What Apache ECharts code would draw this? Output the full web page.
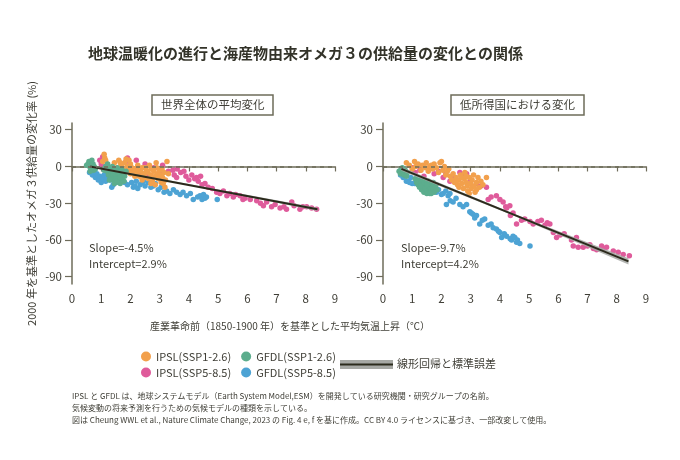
<!DOCTYPE html>
<html>
<head>
<meta charset="utf-8">
<script src="https://cdn.jsdelivr.net/npm/echarts@6/dist/echarts.min.js"></script>
<style>
  html, body { margin: 0; padding: 0; background: #fff; }
  #chart { width: 680px; height: 460px; }
</style>
</head>
<body>
<div id="chart"></div>
<script>
const FONT = '"Noto Sans CJK JP", "Noto Sans", sans-serif';
const TEXT = '#3f3e36';
const AXIS = '#6e6c5a';

const seriesNames = ['IPSL(SSP1-2.6)', 'GFDL(SSP1-2.6)', 'IPSL(SSP5-8.5)', 'GFDL(SSP5-8.5)'];
const seriesColors = ['#f2a04c', '#5cad8d', '#df5b9b', '#4da3d4'];
const xTicks = [0, 1, 2, 3, 4, 5, 6, 7, 8, 9];
const yTicks = [30, 0, -30, -60, -90];

// 世界全体の平均変化
const globalIpsl126 = [[1.05,4],[1.1,10],[1.12,7],[1.15,5],[1.2,2],[1.3,-1],[1.45,3],[1.6,5],[1.7,1],[1.75,-2],[1.8,3],[1.85,6],[1.9,0],[1.95,-3],[2.0,2],[2.05,-1],[2.1,-5],[2.15,-2],[2.2,-6],[2.25,-3],[2.3,-8],[2.35,-4],[2.4,-1],[2.45,-6],[2.5,-9],[2.55,-3],[2.6,-5],[2.62,-10],[2.65,1],[2.7,-7],[2.72,-2],[2.75,-12],[2.8,-4],[2.85,-8],[2.88,3],[2.9,-1],[2.92,-6],[2.95,-10],[3.0,-3],[3.02,-7],[3.05,-13],[3.08,-2],[3.1,-9],[3.15,-5],[3.18,-17],[3.2,-11],[3.25,4],[3.3,-6],[1.55,-1],[1.65,3],[2.0,-6],[2.25,1],[2.5,-1],[2.7,-14],[2.4,-11],[2.15,-8],[1.95,5],[2.85,-15],[3.12,-14]];
const globalGfdl126 = [[0.55,2],[0.58,4],[0.6,0],[0.62,3],[0.64,-2],[0.66,1],[0.68,5],[0.7,-1],[0.72,2],[0.74,-3],[0.76,0],[0.62,-4],[0.8,-2],[0.5,1],[1.1,-3],[1.15,0],[1.2,-4],[1.22,2],[1.25,-7],[1.3,-2],[1.32,-9],[1.35,-5],[1.38,0],[1.4,-11],[1.42,-7],[1.45,-3],[1.48,-9],[1.5,-13],[1.52,-5],[1.55,-1],[1.58,-8],[1.6,-11],[1.62,-4],[1.65,-14],[1.68,-7],[1.7,-2],[1.72,-10],[1.75,-5],[1.78,-12],[1.8,-8],[1.85,-4],[1.28,-11],[1.45,-14],[1.6,-6],[1.35,-1],[1.5,-10],[1.4,-4],[1.55,-12],[1.65,-9]];
const globalIpsl585 = [[0.95,5],[1.0,2],[1.05,8],[1.9,7],[1.85,4],[2.0,-3],[2.2,5],[2.3,-5],[2.5,2],[2.6,-8],[2.8,-1],[3.0,-6],[3.1,1],[3.3,-4],[3.45,-3],[3.5,-7],[3.58,-9],[3.6,-2],[3.72,-5],[3.83,-4],[3.9,-8],[4.0,-11],[4.1,-7],[4.2,-10],[4.26,-9],[4.32,-12],[4.4,-8],[4.45,-15],[4.55,-14],[4.66,-17],[4.8,-18],[4.95,-21],[5.06,-22],[5.18,-20],[5.3,-24],[5.4,-22],[5.52,-25],[5.6,-23],[5.75,-24],[5.85,-27],[5.92,-26],[6.1,-27],[6.32,-28],[6.45,-30],[6.55,-32],[6.66,-29],[6.83,-33],[6.95,-31],[7.12,-34],[7.25,-33],[7.34,-35],[7.52,-29],[7.6,-32],[7.8,-35],[7.9,-33],[8.03,-33],[8.2,-34],[8.37,-35]];
const globalGfdl585 = [[0.6,-5],[0.65,-2],[0.7,-7],[0.75,-4],[0.8,-9],[0.85,-6],[0.9,-11],[0.95,-8],[1.0,-13],[1.05,-10],[1.1,-7],[1.15,-12],[1.2,-9],[1.3,-11],[1.36,-17],[1.41,-15],[1.5,-13],[1.65,-10],[1.8,-13],[1.9,-15],[2.04,-13],[2.1,-17],[2.15,-16],[2.2,-12],[2.25,-18],[2.33,-15],[2.4,-13],[2.44,-12],[2.5,-16],[2.61,-13],[2.7,-17],[2.78,-16],[2.85,-14],[2.95,-19],[3.05,-17],[3.15,-21],[3.24,-20],[3.35,-22],[3.47,-19],[3.58,-21],[3.7,-23],[3.8,-21],[3.92,-24],[4.05,-22],[4.15,-27],[4.3,-25],[4.38,-24],[4.45,-27],[4.5,-23],[4.55,-26],[4.6,-25],[4.97,-27]];
const globalFit = [[0.62,0],[8.4,-35]];
const globalBand = [[0.62,-0.8,0.8],[4.5,-17.3,-16.5],[8.4,-36.3,-33.7]];

// 低所得国における変化
const lowIpsl126 = [[0.8,3],[0.9,1],[1.0,-2],[1.08,4],[1.12,0],[1.2,2],[1.3,-3],[1.35,1],[1.45,-1],[1.48,3],[1.55,-4],[1.6,0],[1.7,-2],[1.75,2],[1.83,-1],[1.9,-5],[1.95,3],[2.0,4],[2.05,-3],[2.1,0],[2.15,-7],[2.2,-4],[2.3,-8],[2.35,-11],[2.4,-6],[2.45,-13],[2.5,-9],[2.55,-15],[2.6,-11],[2.65,-7],[2.7,-14],[2.75,-18],[2.78,-10],[2.8,-5],[2.85,-13],[2.88,-16],[2.9,-20],[2.95,-9],[3.0,-14],[3.02,-18],[3.05,-11],[3.1,-7],[3.12,-16],[3.15,-21],[3.2,-13],[3.25,-9],[3.3,-17],[3.35,-12],[3.42,-15],[3.54,-9],[2.6,-17],[2.7,-9],[2.95,-22],[3.2,-19],[2.5,-12],[2.85,-8],[1.65,1],[2.25,-2]];
const lowGfdl126 = [[0.55,-4],[0.6,-6],[0.62,-2],[0.66,-1],[0.7,-4],[0.72,-7],[0.76,-3],[0.8,-8],[0.84,-5],[1.1,-10],[1.15,-13],[1.2,-15],[1.22,-11],[1.25,-17],[1.3,-13],[1.32,-19],[1.35,-15],[1.38,-11],[1.4,-21],[1.42,-17],[1.45,-14],[1.48,-19],[1.5,-22],[1.52,-16],[1.55,-12],[1.58,-20],[1.6,-18],[1.62,-14],[1.65,-22],[1.68,-16],[1.7,-19],[1.72,-13],[1.75,-21],[1.78,-17],[1.82,-15],[1.85,-19],[1.3,-16],[1.45,-18],[1.55,-16],[1.4,-13],[1.6,-22],[1.5,-15],[1.7,-17]];
const lowIpsl585 = [[1.0,-1],[1.1,-5],[1.26,-3],[1.4,-8],[1.6,-1],[1.75,-6],[1.9,-4],[2.06,-9],[2.15,-6],[2.29,-12],[2.4,-10],[2.63,-5],[2.75,-8],[2.86,-6],[3.0,-11],[3.2,-14],[3.35,-16],[3.54,-17],[3.6,-27],[3.7,-25],[3.88,-24],[4.0,-27],[4.11,-29],[4.2,-33],[4.23,-34],[4.34,-32],[4.36,-40],[4.45,-38],[4.57,-47],[4.74,-44],[4.85,-43],[5.03,-45],[5.14,-47],[5.3,-45],[5.42,-44],[5.54,-48],[5.62,-46],[5.71,-47],[5.83,-54],[5.94,-58],[6.06,-56],[6.2,-55],[6.45,-60],[6.51,-65],[6.62,-58],[6.68,-66],[6.85,-66],[7.0,-65],[7.08,-64],[7.2,-67],[7.31,-68],[7.48,-65],[7.55,-67],[7.65,-66],[7.88,-69],[8.05,-70],[8.22,-72],[8.43,-73]];
const lowGfdl585 = [[0.6,-7],[0.69,-9],[0.75,-5],[0.8,-12],[0.86,-12],[0.91,-13],[0.95,-9],[1.0,-14],[1.08,-14],[1.15,-11],[1.25,-15],[1.35,-17],[1.83,-21],[1.9,-19],[2.0,-23],[2.06,-22],[2.15,-20],[2.23,-24],[2.29,-22],[2.17,-31],[2.3,-28],[2.4,-29],[2.5,-26],[2.63,-31],[2.74,-33],[2.86,-31],[2.97,-37],[3.02,-38],[3.08,-39],[3.14,-42],[3.2,-40],[3.31,-47],[3.4,-44],[3.48,-43],[3.6,-48],[3.7,-47],[3.77,-50],[3.88,-51],[3.95,-53],[4.0,-54],[4.06,-58],[4.15,-55],[4.23,-57],[4.35,-59],[4.4,-60],[4.45,-57],[4.51,-58],[4.57,-62],[4.6,-60],[4.68,-63],[5.03,-65]];
const lowFit = [[0.63,-2],[8.4,-77.5]];
const lowBand = [[0.63,-3.6,-0.4],[4.5,-40.4,-38.8],[8.4,-80,-75]];

const panelTitles = ['世界全体の平均変化', '低所得国における変化'];
const fitLabels = [['Slope=-4.5%', 'Intercept=2.9%'], ['Slope=-9.7%', 'Intercept=4.2%']];

/**
 * 散布図シリーズ
 */
function scatterSeries(gridIdx, data, idx) {
    return {
        name: seriesNames[idx],
        type: 'scatter',
        xAxisIndex: gridIdx,
        yAxisIndex: gridIdx,
        symbolSize: 5.5,
        itemStyle: { color: seriesColors[idx], opacity: 1 },
        z: 2,
        data: data
    };
}

/**
 * 標準誤差の帯
 */
function bandSeries(gridIdx, band) {
    return {
        type: 'custom',
        xAxisIndex: gridIdx,
        yAxisIndex: gridIdx,
        silent: true,
        z: 3,
        encode: { x: 0, y: [1, 2] },
        data: band,
        renderItem: function (params, api) {
            if (params.dataIndex !== 0) return;
            const upper = band.map(p => api.coord([p[0], p[2]]));
            const lower = band.map(p => api.coord([p[0], p[1]])).reverse();
            return {
                type: 'polygon',
                shape: { points: upper.concat(lower) },
                style: { fill: '#a6a8a4', opacity: 0.85 }
            };
        }
    };
}

function fitSeries(gridIdx, data) {
    return {
        type: 'line',
        xAxisIndex: gridIdx,
        yAxisIndex: gridIdx,
        symbol: 'none',
        silent: true,
        z: 4,
        lineStyle: { color: '#2b2a1c', width: 2 },
        data: data,
        markLine: {
            silent: true,
            symbol: ['none', 'none'],
            label: { show: false },
            lineStyle: { color: AXIS, type: [4, 4], width: 1.5 },
            data: [{ yAxis: 0 }]
        }
    };
}

function xAxis(gridIdx) {
    return {
        type: 'value',
        gridIndex: gridIdx,
        min: 0,
        max: 9,
        interval: 1,
        axisLine: { lineStyle: { color: AXIS, width: 1.5 } },
        axisTick: { length: 5, lineStyle: { color: AXIS, width: 1.2 } },
        axisLabel: { color: TEXT, fontSize: 11.5, fontFamily: FONT, margin: 9, customValues: xTicks },
        splitLine: { show: false }
    };
}

function yAxis(gridIdx) {
    const axis = {
        type: 'value',
        gridIndex: gridIdx,
        min: -96,
        max: 35.5,
        axisLine: { show: true, lineStyle: { color: AXIS, width: 1.5 } },
        axisTick: { show: true, length: 7, customValues: yTicks, lineStyle: { color: AXIS, width: 1.2 } },
        axisLabel: { color: TEXT, fontSize: 11.5, fontFamily: FONT, margin: 10, customValues: yTicks },
        splitLine: { show: false }
    };
    if (gridIdx === 0) {
        axis.name = '2000 年を基準としたオメガ３供給量の変化率 (%)';
        axis.nameLocation = 'middle';
        axis.nameRotate = 90;
        axis.nameGap = 35;
        axis.nameTextStyle = { color: TEXT, fontSize: 11, fontFamily: FONT };
    }
    return axis;
}

function panelTitle(text, left) {
    return {
        text: text,
        left: left,
        top: 95,
        padding: [3, 9],
        borderColor: AXIS,
        borderWidth: 1.5,
        textStyle: { color: TEXT, fontSize: 11.5, fontWeight: 'normal', fontFamily: FONT, lineHeight: 14 }
    };
}

function fitText(x, lines) {
    return {
        type: 'text',
        left: x,
        top: 240,
        style: { text: lines.join('\n'), fill: TEXT, font: '11px ' + FONT, lineHeight: 16 }
    };
}

function legendRow(top, names) {
    return {
        left: 141,
        top: top,
        padding: 0,
        icon: 'circle',
        itemWidth: 10,
        itemHeight: 10,
        itemGap: 10,
        selectedMode: false,
        textStyle: { color: TEXT, fontSize: 11, fontFamily: FONT },
        data: names
    };
}

function initChart() {
    const chart = echarts.init(document.getElementById('chart'));
    const option = {
        backgroundColor: '#fff',
        animation: false,
        title: [
            {
                text: '地球温暖化の進行と海産物由来オメガ３の供給量の変化との関係',
                left: 88,
                top: 46,
                padding: 0,
                textStyle: { color: '#333329', fontSize: 15, fontWeight: 'bold', fontFamily: FONT }
            },
            panelTitle(panelTitles[0], 152),
            panelTitle(panelTitles[1], 451)
        ],
        grid: [
            { left: 72, right: 345, top: 123, bottom: 176 },
            { left: 383, right: 34, top: 123, bottom: 176 }
        ],
        xAxis: [xAxis(0), xAxis(1)],
        yAxis: [yAxis(0), yAxis(1)],
        legend: [
            legendRow(351, [seriesNames[0], seriesNames[1]]),
            legendRow(367, [seriesNames[2], seriesNames[3]])
        ],
        graphic: [
            fitText(89, fitLabels[0]),
            fitText(401, fitLabels[1]),
            {
                type: 'text',
                left: 150,
                top: 321,
                style: { text: '産業革命前（1850-1900 年）を基準とした平均気温上昇（℃）', fill: TEXT, font: '10px ' + FONT }
            },
            {
                type: 'rect',
                left: 340,
                top: 360,
                shape: { width: 53, height: 9 },
                style: { fill: '#a6a8a4' }
            },
            {
                type: 'rect',
                left: 340,
                top: 363.5,
                shape: { width: 53, height: 2 },
                style: { fill: '#2b2a1c' }
            },
            {
                type: 'text',
                left: 397,
                top: 358,
                style: { text: '線形回帰と標準誤差', fill: TEXT, font: '11px ' + FONT }
            },
            {
                type: 'text',
                left: 72,
                top: 390,
                style: {
                    text: 'IPSL と GFDL は、地球システムモデル（Earth System Model,ESM）を開発している研究機関・研究グループの名前。\n' +
                          '気候変動の将来予測を行うための気候モデルの種類を示している。\n' +
                          '図は Cheung WWL et al., Nature Climate Change, 2023 の Fig. 4 e, f を基に作成。CC BY 4.0 ライセンスに基づき、一部改変して使用。',
                    fill: TEXT,
                    font: '8px ' + FONT,
                    lineHeight: 12
                }
            }
        ],
        series: [
            scatterSeries(0, globalGfdl585, 3),
            scatterSeries(0, globalIpsl585, 2),
            scatterSeries(0, globalIpsl126, 0),
            scatterSeries(0, globalGfdl126, 1),
            bandSeries(0, globalBand),
            fitSeries(0, globalFit),
            scatterSeries(1, lowGfdl585, 3),
            scatterSeries(1, lowIpsl585, 2),
            scatterSeries(1, lowIpsl126, 0),
            scatterSeries(1, lowGfdl126, 1),
            bandSeries(1, lowBand),
            fitSeries(1, lowFit)
        ]
    };
    chart.setOption(option);
}

document.addEventListener('DOMContentLoaded', function () {
    initChart();
});
</script>
</body>
</html>
